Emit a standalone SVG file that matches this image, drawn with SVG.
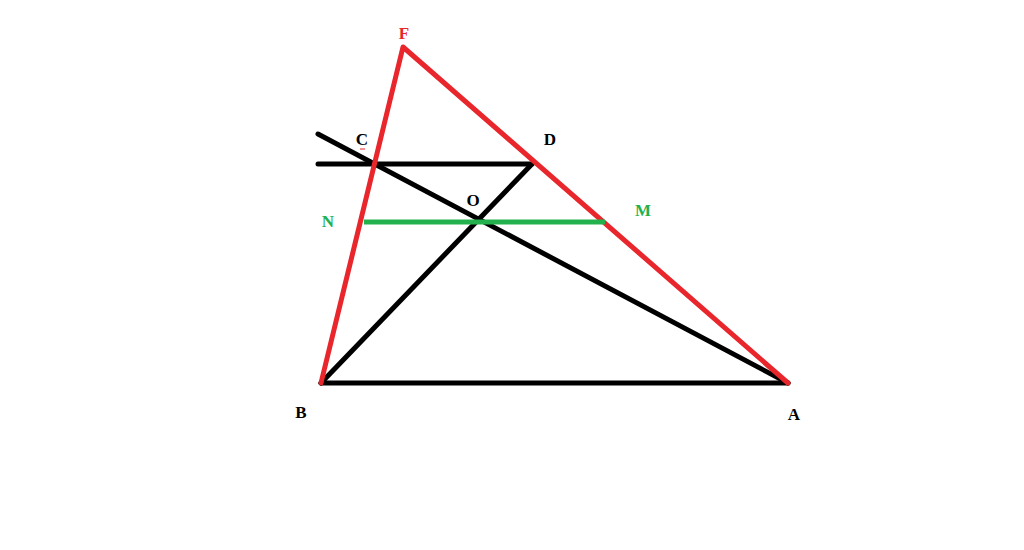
<svg xmlns="http://www.w3.org/2000/svg" width="1024" height="550" viewBox="0 0 1024 550">
<style>
.k{stroke:#000;stroke-width:5;fill:none;stroke-linecap:round}
.r{stroke:#e8262b;stroke-width:5;fill:none;stroke-linecap:round;stroke-linejoin:round}
.g{stroke:#22b14c;stroke-width:5;fill:none}
text{font-family:"Liberation Serif",serif;font-weight:bold;font-size:17px;text-anchor:middle}
</style>
<rect width="1024" height="550" fill="#fff"/>
<g id="connectors">
<line class="k" x1="321" y1="383" x2="788" y2="383"/>
<line class="k" x1="318" y1="134" x2="788" y2="383"/>
<line class="k" x1="318" y1="164" x2="532" y2="164"/>
<line class="k" x1="321" y1="383" x2="532" y2="164"/>
<polyline class="r" points="321,383 403,47 788,383"/>
<line class="g" x1="364" y1="222" x2="605" y2="222"/>
</g>
<g id="F"><text x="404" y="39" fill="#e8262b">F</text></g>
<g id="C"><text x="362" y="145" fill="#000">C</text><line x1="360" y1="149" x2="365" y2="149" stroke="#e8262b" stroke-width="1"/></g>
<g id="D"><text x="550" y="145" fill="#000">D</text></g>
<g id="N"><text x="328" y="227" fill="#22b14c">N</text></g>
<g id="O"><text x="473" y="206" fill="#000">O</text></g>
<g id="M"><text x="643" y="216" fill="#22b14c">M</text></g>
<g id="B"><text x="301" y="418" fill="#000">B</text></g>
<g id="A"><text x="794" y="420" fill="#000">A</text></g>
</svg>
